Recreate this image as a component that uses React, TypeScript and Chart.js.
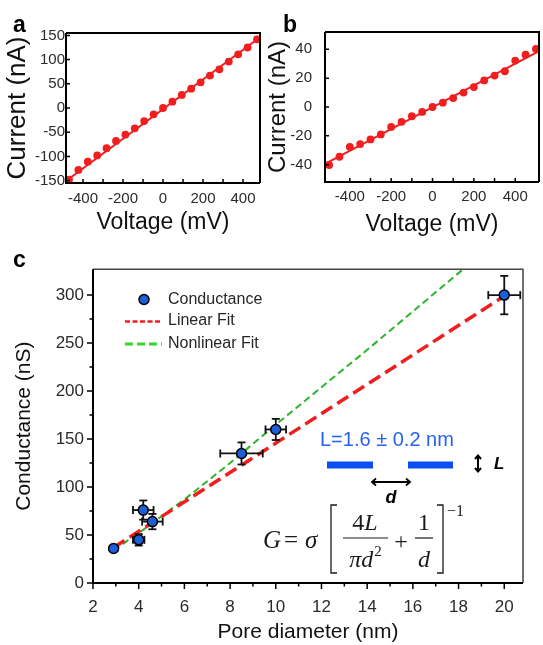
import React, { useEffect, useRef } from 'react';
import { Chart, registerables } from 'chart.js';
Chart.register(...registerables);

const SANS = '"Liberation Sans", Arial, Helvetica, sans-serif';
const SERIF = '"Liberation Serif", "Times New Roman", serif';
const RED = '#f01e1e';
const BLUE_PT = '#1b5fd9';
const LABEL_BLUE = '#2563f0';
const BAR_BLUE = '#0a4ff2';
const GREEN = '#2cb52c';
const GREEN_LEG = '#33d633';

// ---------- panel a ----------
const voltageA = [-470, -423, -376, -329, -282, -235, -188, -141, -94, -47, 0, 47, 94, 141, 188, 235, 282, 329, 376, 423, 470];
const currentA = [-148, -128, -111, -98, -83, -68, -55, -42, -27, -13, 0, 13, 27, 40, 53, 67, 80, 96, 111, 125, 142];
const fitVoltageA = [-485, 485];
const fitCurrentA = [-151, 146];
const ticksAX = [-400, -200, 0, 200, 400];
const minorAX = [-400, -300, -200, -100, 0, 100, 200, 300, 400];
const ticksAY = [-150, -100, -50, 0, 50, 100, 150];

// ---------- panel b ----------
const voltageB = [-500, -450, -400, -350, -300, -250, -200, -150, -100, -50, 0, 50, 100, 150, 200, 250, 300, 350, 400, 450, 500];
const currentB = [-40.2, -34.5, -27.6, -25.7, -22.5, -19, -13.8, -10.3, -6.4, -3.4, 0, 3, 6.2, 10, 13.8, 18.4, 21.8, 24.8, 32.2, 36.3, 40.2];
const fitVoltageB = [-520, 515];
const fitCurrentB = [-39.5, 38.8];
const ticksBX = [-400, -200, 0, 200, 400];
const minorBX = [-400, -300, -200, -100, 0, 100, 200, 300, 400];
const ticksBY = [-40, -20, 0, 20, 40];

// ---------- panel c ----------
const poreDiameter = [2.9, 4.0, 4.2, 4.6, 8.5, 10.0, 20.0];
const conductance = [36, 45, 76, 64, 135, 160, 300];
const diameterErr = [0, 0.25, 0.45, 0.45, 0.93, 0.45, 0.7];
const conductanceErr = [0, 6, 10, 8, 11.5, 11, 20];
const linearFitD = [2.9, 20];
const linearFitG = [37, 299];
const nonlinearFitD = [2.9, 4, 6, 8, 10, 12, 14, 16, 18.2];
const nonlinearFitG = [34, 52, 87, 125, 165, 204, 243, 283, 327];
const ticksCX = [2, 4, 6, 8, 10, 12, 14, 16, 18, 20];
const minorCX = [3, 5, 7, 9, 11, 13, 15, 17, 19];
const ticksCY = [0, 50, 100, 150, 200, 250, 300];
const minorCY = [25, 75, 125, 175, 225, 275];

function pts(xs: number[], ys: number[]) {
  return xs.map((x, i) => ({ x, y: ys[i] }));
}

type AxisCfg = {
  min: number; max: number; ticks: number[]; thickness: number; horizontal: boolean;
  labelSize: number; labelPad: number; title: string; titleSize: number; titlePad: number;
};

function makeAxis(c: AxisCfg): any {
  return {
    type: 'linear',
    min: c.min,
    max: c.max,
    afterBuildTicks: (s: any) => { s.ticks = c.ticks.map((v) => ({ value: v })); },
    afterFit: (s: any) => { if (c.horizontal) s.height = c.thickness; else s.width = c.thickness; },
    grid: { display: false, drawTicks: false, tickLength: 0 },
    border: { display: false },
    ticks: { font: { family: SANS, size: c.labelSize }, color: '#2a2a2a', padding: c.labelPad, maxRotation: 0, autoSkip: false },
    title: {
      display: true, text: c.title, font: { family: SANS, size: c.titleSize }, color: '#111',
      padding: c.horizontal ? { top: 0, bottom: c.titlePad } : { top: c.titlePad, bottom: 0 },
    },
  };
}

function drawTickMarks(chart: any, axis: 'x' | 'y', values: number[], len: number, outward: boolean, lw: number) {
  const { ctx, chartArea: a } = chart;
  const s = chart.scales[axis];
  ctx.save();
  ctx.strokeStyle = '#000';
  ctx.lineWidth = lw;
  ctx.beginPath();
  values.forEach((v) => {
    const p = s.getPixelForValue(v);
    if (axis === 'x') { ctx.moveTo(p, a.bottom); ctx.lineTo(p, a.bottom + (outward ? len : -len)); }
    else { ctx.moveTo(a.left, p); ctx.lineTo(a.left + (outward ? -len : len), p); }
  });
  ctx.stroke();
  ctx.restore();
}

function drawFrame(chart: any, axisW: number, otherW: number, otherColor: string) {
  const { ctx, chartArea: a } = chart;
  ctx.save();
  ctx.strokeStyle = otherColor;
  ctx.lineWidth = otherW;
  ctx.beginPath(); ctx.moveTo(a.left, a.top); ctx.lineTo(a.right, a.top); ctx.lineTo(a.right, a.bottom); ctx.stroke();
  ctx.strokeStyle = '#000';
  ctx.lineWidth = axisW;
  ctx.beginPath(); ctx.moveTo(a.left, a.top); ctx.lineTo(a.left, a.bottom); ctx.lineTo(a.right, a.bottom); ctx.stroke();
  ctx.restore();
}

function drawLetter(ctx: any, text: string, x: number, y: number) {
  ctx.save();
  ctx.font = `bold 23px ${SANS}`;
  ctx.fillStyle = '#000';
  ctx.textBaseline = 'alphabetic';
  ctx.textAlign = 'left';
  ctx.fillText(text, x, y);
  ctx.restore();
}

function ivConfig(p: {
  xs: number[]; ys: number[]; fx: number[]; fy: number[]; xmin: number; xmax: number; ymin: number; ymax: number;
  xticks: number[]; yticks: number[]; minorX: number[]; pad: any; yWidth: number; xHeight: number;
  yLabelPad: number; xLabelPad: number; yTitleSize: number; yTitlePad: number; xTitlePad: number;
  letter: string; lx: number; ly: number;
}): any {
  return {
    type: 'scatter',
    data: {
      datasets: [
        { data: pts(p.xs, p.ys), backgroundColor: RED, borderColor: RED, pointRadius: 3.9, pointBorderWidth: 0 },
        { data: pts(p.fx, p.fy), showLine: true, borderColor: RED, borderWidth: 2, pointRadius: 0 },
      ],
    },
    options: {
      animation: false, responsive: false, maintainAspectRatio: false,
      layout: { padding: p.pad },
      plugins: { legend: { display: false }, tooltip: { enabled: false } },
      scales: {
        x: makeAxis({ min: p.xmin, max: p.xmax, ticks: p.xticks, thickness: p.xHeight, horizontal: true, labelSize: 15, labelPad: p.xLabelPad, title: 'Voltage (mV)', titleSize: 23, titlePad: p.xTitlePad }),
        y: makeAxis({ min: p.ymin, max: p.ymax, ticks: p.yticks, thickness: p.yWidth, horizontal: false, labelSize: 15, labelPad: p.yLabelPad, title: 'Current (nA)', titleSize: p.yTitleSize, titlePad: p.yTitlePad }),
      },
    },
    plugins: [{
      id: 'ivframe' + p.letter,
      afterDraw(chart: any) {
        drawFrame(chart, 2, 2, '#000');
        drawTickMarks(chart, 'x', p.minorX, 4, false, 1.5);
        drawTickMarks(chart, 'y', p.yticks, 4, false, 1.5);
        drawLetter(chart.ctx, p.letter, p.lx, p.ly);
      },
    }],
  };
}

function line(ctx: any, x1: number, y1: number, x2: number, y2: number) {
  ctx.beginPath(); ctx.moveTo(x1, y1); ctx.lineTo(x2, y2); ctx.stroke();
}

function drawCAnnotations(ctx: any) {
  ctx.save();
  // legend
  ctx.fillStyle = BLUE_PT; ctx.strokeStyle = '#000'; ctx.lineWidth = 1.5;
  ctx.beginPath(); ctx.arc(144, 49.5, 5, 0, Math.PI * 2); ctx.fill(); ctx.stroke();
  ctx.font = `16px ${SANS}`; ctx.fillStyle = '#262626'; ctx.textBaseline = 'middle'; ctx.textAlign = 'left';
  ctx.fillText('Conductance', 168, 49.5);
  ctx.fillText('Linear Fit', 168, 71);
  ctx.fillText('Nonlinear Fit', 168, 94);
  ctx.lineWidth = 2.6; ctx.strokeStyle = RED; ctx.setLineDash([5, 2.5]);
  line(ctx, 125, 71.5, 162, 71.5);
  ctx.lineWidth = 3; ctx.strokeStyle = GREEN_LEG; ctx.setLineDash([8, 4]);
  line(ctx, 125, 94, 162, 94);
  ctx.setLineDash([]);

  // pore sketch
  ctx.font = `20px ${SANS}`; ctx.fillStyle = LABEL_BLUE;
  ctx.fillText('L=1.6 \u00b1 0.2 nm', 320, 190);
  ctx.fillStyle = BAR_BLUE;
  ctx.fillRect(327, 211.5, 46, 7);
  ctx.fillRect(408, 211.5, 45, 7);
  ctx.strokeStyle = '#000'; ctx.lineWidth = 2;
  line(ctx, 478, 206, 478, 221);
  ctx.beginPath(); ctx.moveTo(475, 209); ctx.lineTo(478, 205.5); ctx.lineTo(481, 209); ctx.stroke();
  ctx.beginPath(); ctx.moveTo(475, 218); ctx.lineTo(478, 221.5); ctx.lineTo(481, 218); ctx.stroke();
  ctx.fillStyle = '#000';
  ctx.font = `italic bold 17px ${SANS}`;
  ctx.fillText('L', 494, 214);
  ctx.lineWidth = 1.8;
  line(ctx, 372, 232, 410, 232);
  ctx.beginPath(); ctx.moveTo(376, 228.5); ctx.lineTo(372, 232); ctx.lineTo(376, 235.5); ctx.stroke();
  ctx.beginPath(); ctx.moveTo(406, 228.5); ctx.lineTo(410, 232); ctx.lineTo(406, 235.5); ctx.stroke();
  ctx.font = `italic bold 18px ${SANS}`;
  ctx.textAlign = 'center'; ctx.textBaseline = 'alphabetic';
  ctx.fillText('d', 391, 253);

  // formula
  ctx.fillStyle = '#1a1a1a'; ctx.strokeStyle = '#1a1a1a';
  ctx.textAlign = 'left';
  ctx.font = `italic 25px ${SERIF}`;
  ctx.fillText('G', 263, 298);
  ctx.font = `25px ${SERIF}`;
  ctx.fillText('=', 284, 298);
  ctx.font = `italic 25px ${SERIF}`;
  ctx.fillText('\u03c3', 305, 298);
  // brackets
  ctx.lineWidth = 1.3;
  ctx.beginPath(); ctx.moveTo(337, 255); ctx.lineTo(331, 255); ctx.lineTo(331, 323); ctx.lineTo(337, 323); ctx.stroke();
  ctx.beginPath(); ctx.moveTo(437, 255); ctx.lineTo(443, 255); ctx.lineTo(443, 323); ctx.lineTo(437, 323); ctx.stroke();
  // fraction 1
  ctx.font = `24px ${SERIF}`; const w4 = ctx.measureText('4').width;
  ctx.font = `italic 24px ${SERIF}`; const wL = ctx.measureText('L').width;
  let sx = 365 - (w4 + wL) / 2;
  ctx.font = `24px ${SERIF}`; ctx.fillText('4', sx, 280);
  ctx.font = `italic 24px ${SERIF}`; ctx.fillText('L', sx + w4, 280);
  ctx.lineWidth = 1.2;
  line(ctx, 343, 288, 388, 288);
  ctx.font = `italic 24px ${SERIF}`;
  const wpd = ctx.measureText('\u03c0d').width;
  ctx.font = `15px ${SERIF}`; const w2 = ctx.measureText('2').width;
  sx = 365 - (wpd + w2) / 2;
  ctx.font = `italic 24px ${SERIF}`; ctx.fillText('\u03c0d', sx, 317);
  ctx.font = `15px ${SERIF}`; ctx.fillText('2', sx + wpd + 1, 306);
  // plus
  ctx.font = `24px ${SERIF}`; ctx.textAlign = 'center'; ctx.textBaseline = 'middle';
  ctx.fillText('+', 401, 293);
  ctx.textBaseline = 'alphabetic';
  // fraction 2
  ctx.fillText('1', 424, 280);
  line(ctx, 415, 288, 433, 288);
  ctx.font = `italic 24px ${SERIF}`; ctx.fillText('d', 424, 317);
  // exponent
  ctx.font = `16px ${SERIF}`; ctx.textAlign = 'left';
  ctx.fillText('\u22121', 447, 266);
  ctx.restore();
}

function condConfig(): any {
  return {
    type: 'scatter',
    data: {
      datasets: [
        { data: pts(poreDiameter, conductance), backgroundColor: BLUE_PT, borderColor: '#000', borderWidth: 1.5, pointRadius: 5 },
        { data: pts(linearFitD, linearFitG), showLine: true, borderColor: RED, borderWidth: 3.5, borderDash: [13, 6], pointRadius: 0 },
        { data: pts(nonlinearFitD, nonlinearFitG), showLine: true, borderColor: GREEN, borderWidth: 2, borderDash: [7, 4], pointRadius: 0 },
      ],
    },
    options: {
      animation: false, responsive: false, maintainAspectRatio: false,
      layout: { padding: { left: 0, top: 18, right: 20, bottom: 0 } },
      plugins: { legend: { display: false }, tooltip: { enabled: false } },
      scales: {
        x: makeAxis({ min: 2, max: 20.82, ticks: ticksCX, thickness: 62, horizontal: true, labelSize: 17, labelPad: 14, title: 'Pore diameter (nm)', titleSize: 21, titlePad: 0 }),
        y: makeAxis({ min: 0, max: 327, ticks: ticksCY, thickness: 93, horizontal: false, labelSize: 17, labelPad: 9, title: 'Conductance (nS)', titleSize: 21, titlePad: 12 }),
      },
    },
    plugins: [{
      id: 'condplot',
      beforeDatasetDraw(chart: any, args: any) {
        if (args.index !== 0) return;
        const { ctx } = chart;
        const xs = chart.scales.x, ys = chart.scales.y;
        ctx.save();
        ctx.strokeStyle = '#111'; ctx.lineWidth = 1.8;
        poreDiameter.forEach((d, i) => {
          const g = conductance[i];
          const px = xs.getPixelForValue(d), py = ys.getPixelForValue(g);
          if (diameterErr[i] > 0) {
            const x1 = xs.getPixelForValue(d - diameterErr[i]), x2 = xs.getPixelForValue(d + diameterErr[i]);
            line(ctx, x1, py, x2, py);
            line(ctx, x1, py - 4, x1, py + 4);
            line(ctx, x2, py - 4, x2, py + 4);
          }
          if (conductanceErr[i] > 0) {
            const y1 = ys.getPixelForValue(g - conductanceErr[i]), y2 = ys.getPixelForValue(g + conductanceErr[i]);
            line(ctx, px, y1, px, y2);
            line(ctx, px - 4, y1, px + 4, y1);
            line(ctx, px - 4, y2, px + 4, y2);
          }
        });
        ctx.restore();
      },
      afterDraw(chart: any) {
        drawFrame(chart, 2, 1.5, '#444');
        drawTickMarks(chart, 'x', ticksCX, 6, true, 1.5);
        drawTickMarks(chart, 'x', minorCX, 3.5, true, 1.5);
        drawTickMarks(chart, 'y', ticksCY, 6, true, 1.5);
        drawTickMarks(chart, 'y', minorCY, 3.5, true, 1.5);
        drawLetter(chart.ctx, 'c', 13, 17);
        drawCAnnotations(chart.ctx);
      },
    }],
  };
}

export default function App() {
  const refA = useRef<HTMLCanvasElement>(null);
  const refB = useRef<HTMLCanvasElement>(null);
  const refC = useRef<HTMLCanvasElement>(null);

  useEffect(() => {
    const a = new Chart(refA.current as HTMLCanvasElement, ivConfig({
      xs: voltageA, ys: currentA, fx: fitVoltageA, fy: fitCurrentA, xmin: -485, xmax: 485, ymin: -155, ymax: 155,
      xticks: ticksAX, yticks: ticksAY, minorX: minorAX, pad: { left: 0, top: 33, right: 10, bottom: 0 },
      yWidth: 66, xHeight: 62, yLabelPad: 1, xLabelPad: 7, yTitleSize: 26, yTitlePad: 2, xTitlePad: 9,
      letter: 'a', lx: 13, ly: 32,
    }));
    const b = new Chart(refB.current as HTMLCanvasElement, ivConfig({
      xs: voltageB, ys: currentB, fx: fitVoltageB, fy: fitCurrentB, xmin: -520, xmax: 515, ymin: -52, ymax: 52,
      xticks: ticksBX, yticks: ticksBY, minorX: minorBX, pad: { left: 0, top: 32, right: 2, bottom: 0 },
      yWidth: 63, xHeight: 63, yLabelPad: 13, xLabelPad: 6, yTitleSize: 24, yTitlePad: 2, xTitlePad: 7,
      letter: 'b', lx: 21, ly: 32,
    }));
    const c = new Chart(refC.current as HTMLCanvasElement, condConfig());
    return () => { a.destroy(); b.destroy(); c.destroy(); };
  }, []);

  return (
    <div style={{ position: 'absolute', left: 0, top: 0, width: 543, height: 645, background: '#fff', overflow: 'hidden' }}>
      <canvas ref={refA} width={270} height={245} style={{ position: 'absolute', left: 0, top: 0, width: 270, height: 245 }} />
      <canvas ref={refB} width={281} height={245} style={{ position: 'absolute', left: 262, top: 0, width: 281, height: 245 }} />
      <canvas ref={refC} width={543} height={395} style={{ position: 'absolute', left: 0, top: 250, width: 543, height: 395 }} />
    </div>
  );
}
